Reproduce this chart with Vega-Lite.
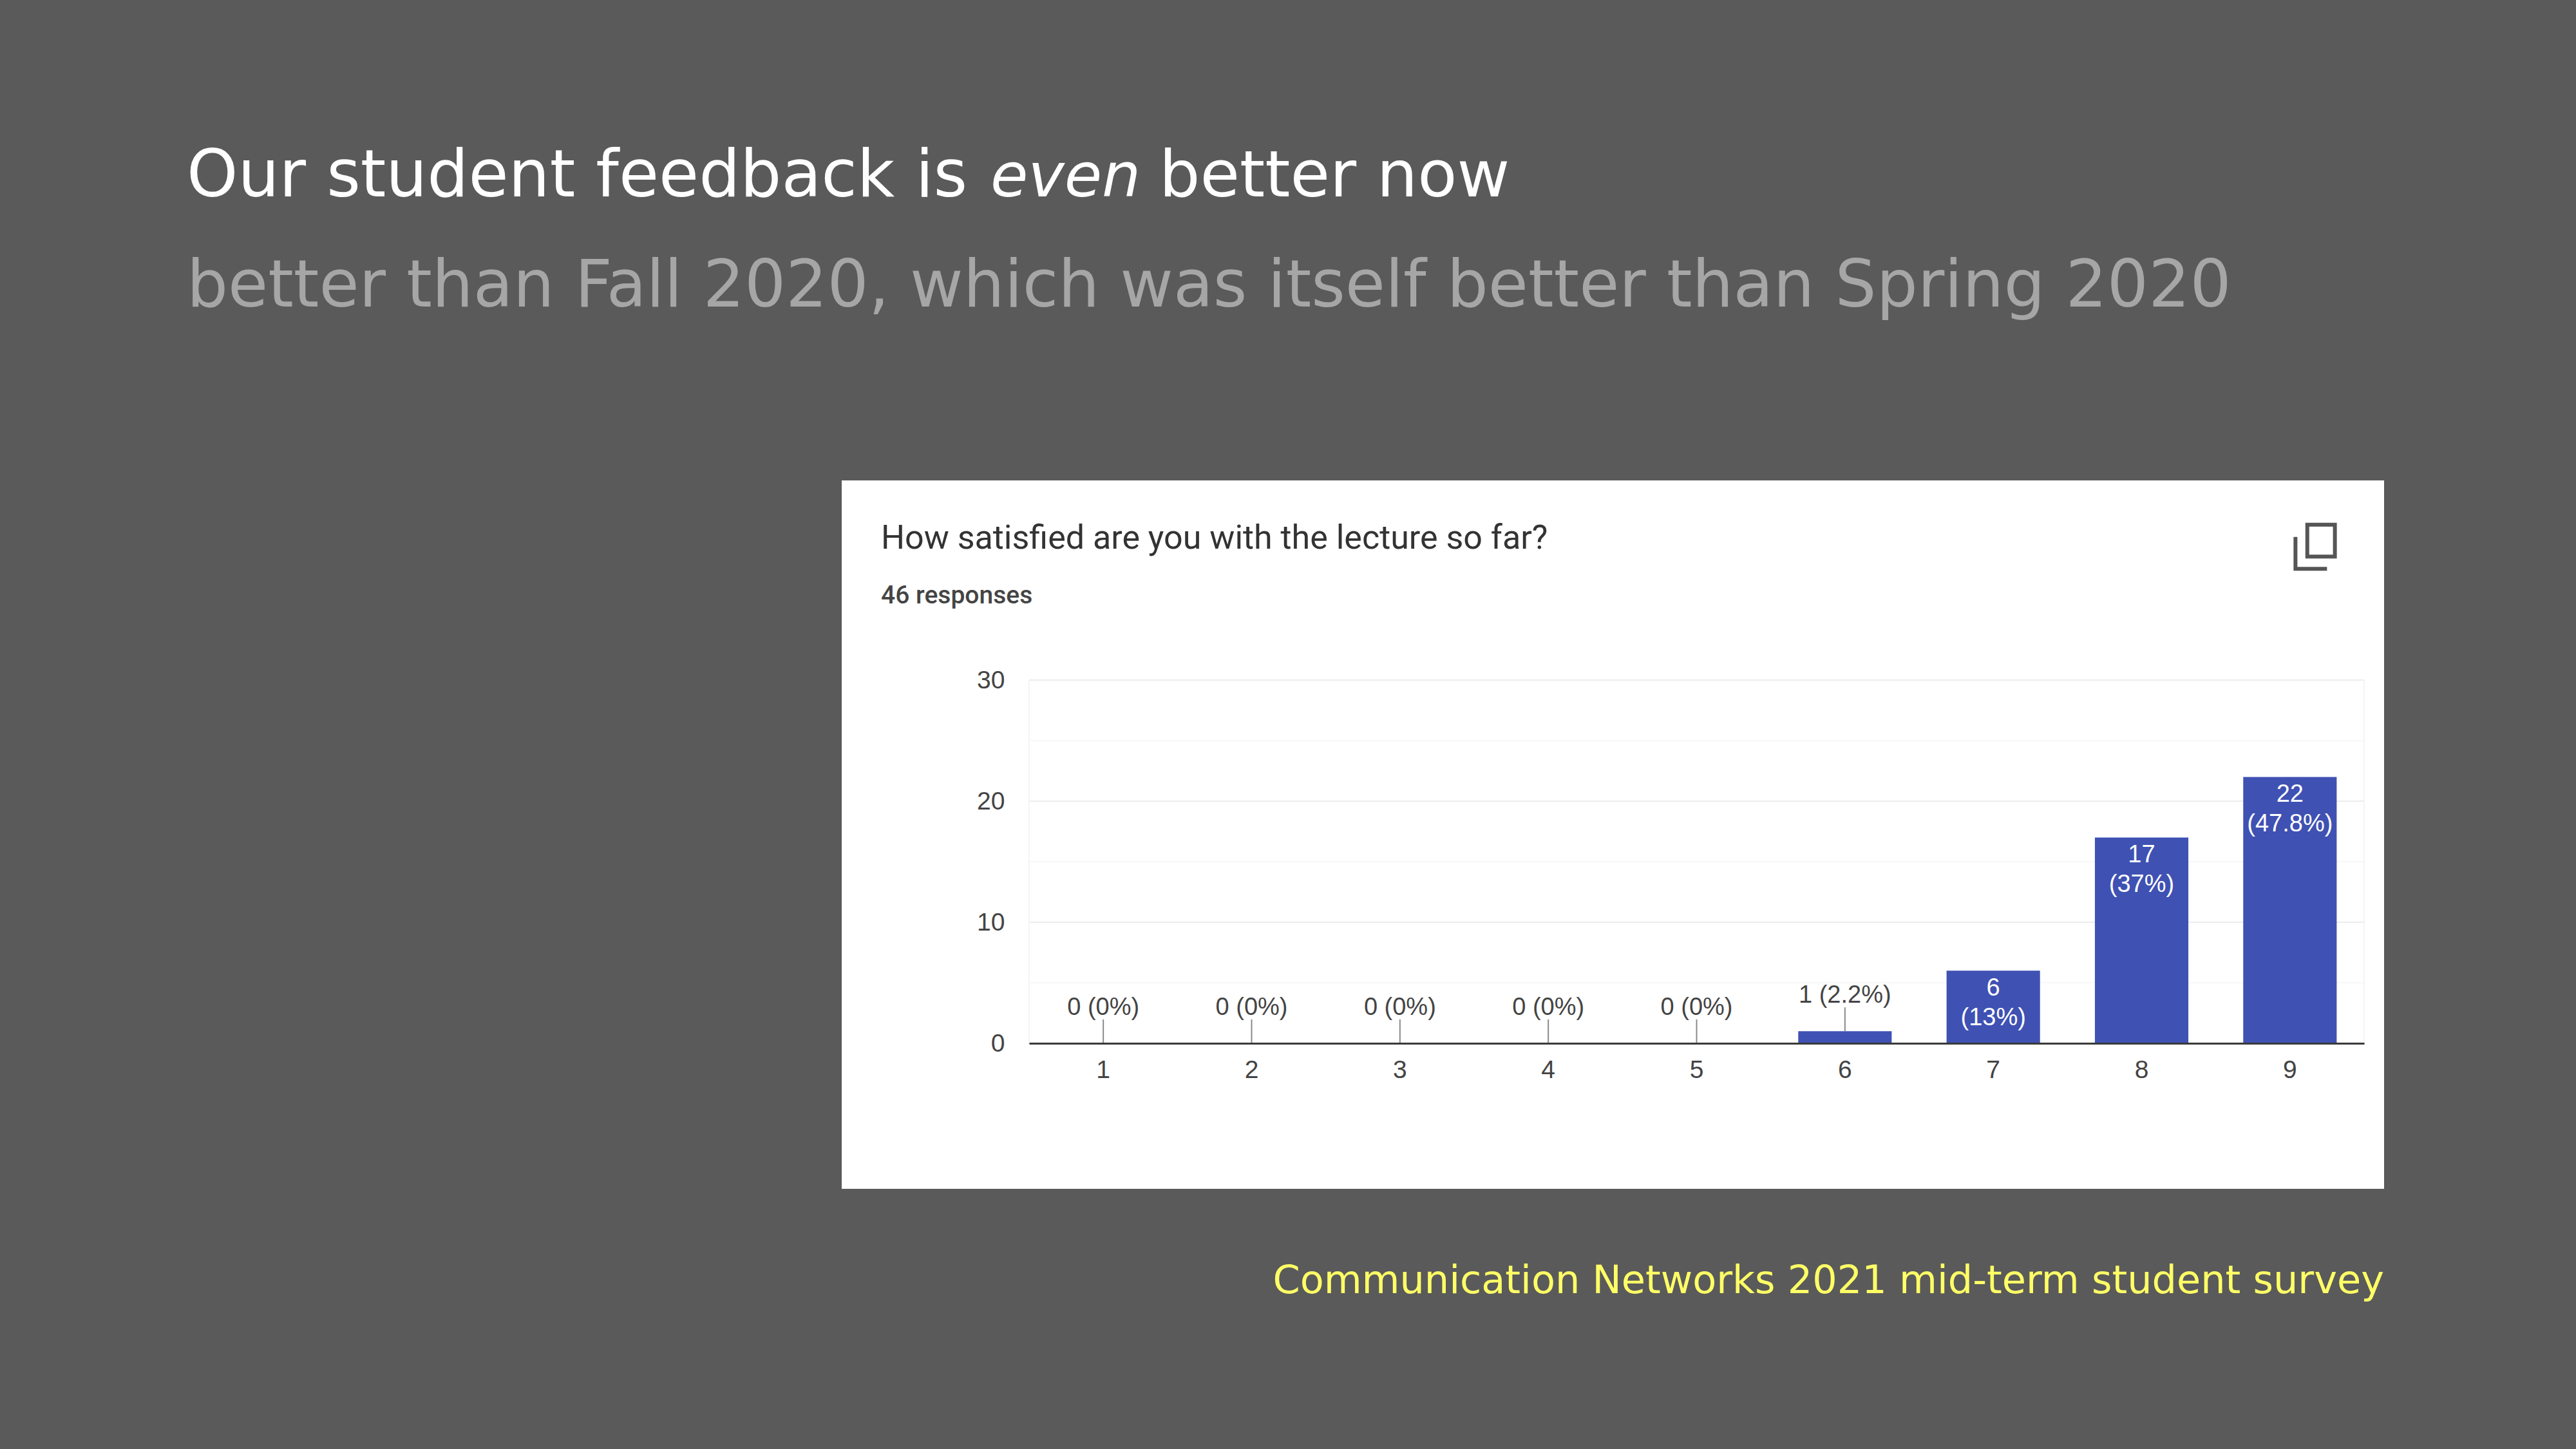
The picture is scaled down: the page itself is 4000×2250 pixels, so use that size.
{
"$schema":"https://vega.github.io/schema/vega-lite/v6.json",
"width":2395,"height":1100,
"autosize":{"type":"none"},
"padding":{"left":1307,"top":746,"right":298,"bottom":404},
"background":"#5a5a5a",
"config":{"view":{"fill":"#ffffff","stroke":null}},
"datasets":{
"ratings":[
{"rating":"1","count":0,"label":"0 (0%)"},
{"rating":"2","count":0,"label":"0 (0%)"},
{"rating":"3","count":0,"label":"0 (0%)"},
{"rating":"4","count":0,"label":"0 (0%)"},
{"rating":"5","count":0,"label":"0 (0%)"},
{"rating":"6","count":1,"label":"1 (2.2%)"},
{"rating":"7","count":6,"label":"6\n(13%)"},
{"rating":"8","count":17,"label":"17\n(37%)"},
{"rating":"9","count":22,"label":"22\n(47.8%)"}
],
"grid":[{"g":5,"k":"minor"},{"g":10,"k":"major"},{"g":15,"k":"minor"},{"g":20,"k":"major"},{"g":25,"k":"minor"},{"g":30,"k":"major"}],
"edges":[{"edge":0},{"edge":9}]
},
"resolve":{"scale":{"x":"independent"},"axis":{"y":"independent"}},
"layer":[
{"data":{"name":"grid"},
"mark":{"type":"rule","strokeWidth":2},
"encoding":{
"x":{"datum":0,"type":"quantitative","scale":{"domain":[0,9],"range":[291,2364]},"axis":null},
"x2":{"datum":9},
"y":{"field":"g","type":"quantitative","scale":{"domain":[0,30],"range":[874,310]},"axis":null},
"color":{"field":"k","type":"nominal","scale":{"domain":["major","minor"],"range":["#ececec","#f8f8f8"]},"legend":null}
}},
{"data":{"name":"edges"},
"mark":{"type":"rule","strokeWidth":2,"color":"#f4f4f4"},
"encoding":{
"x":{"field":"edge","type":"quantitative","scale":{"domain":[0,9],"range":[291,2364]},"axis":null},
"y":{"datum":0,"type":"quantitative","scale":{"domain":[0,30],"range":[874,310]},"axis":null},
"y2":{"datum":30}
}},
{"data":{"name":"ratings"},
"mark":{"type":"bar","color":"#3f51b3"},
"encoding":{
"x":{"field":"rating","type":"nominal","sort":null,"scale":{"type":"band","domain":["1","2","3","4","5","6","7","8","9"],"range":[291,2364],"paddingInner":0.37,"paddingOuter":0.185},
"axis":{"title":null,"offset":-226,"domainColor":"#3a3a3a","domainWidth":3,"ticks":false,"labelAngle":0,"labelFont":"Liberation Sans","labelFontSize":39,"labelColor":"#444444","labelPadding":22,"labelBaseline":"top","grid":false,"zindex":1}},
"y":{"field":"count","type":"quantitative","scale":{"domain":[0,30],"range":[874,310]},
"axis":{"title":null,"values":[0,10,20,30],"offset":-253,"domain":false,"ticks":false,"grid":false,"labelFont":"Liberation Sans","labelFontSize":39,"labelColor":"#444444","labelPadding":0}}
}},
{"data":{"name":"ratings"},
"transform":[{"filter":"datum.count <= 1"}],
"mark":{"type":"rule","color":"#8a8a8a","strokeWidth":2,"y2Offset":-37},
"encoding":{
"x":{"field":"rating","type":"nominal","sort":null,"scale":{"type":"band","domain":["1","2","3","4","5","6","7","8","9"],"range":[291,2364],"paddingInner":0.37,"paddingOuter":0.185},"axis":null},
"y":{"field":"count","type":"quantitative","scale":{"domain":[0,30],"range":[874,310]},"axis":null},
"y2":{"field":"count"}
}},
{"data":{"name":"ratings"},
"transform":[{"filter":"datum.count <= 1"}],
"mark":{"type":"text","font":"Liberation Sans","fontSize":38,"color":"#444444","baseline":"alphabetic","dy":-44},
"encoding":{
"x":{"field":"rating","type":"nominal","sort":null,"scale":{"type":"band","domain":["1","2","3","4","5","6","7","8","9"],"range":[291,2364],"paddingInner":0.37,"paddingOuter":0.185},"axis":null},
"y":{"field":"count","type":"quantitative","scale":{"domain":[0,30],"range":[874,310]},"axis":null},
"text":{"field":"label"}
}},
{"data":{"name":"ratings"},
"transform":[{"filter":"datum.count > 1"}],
"mark":{"type":"text","font":"Liberation Sans","fontSize":38,"color":"#ffffff","baseline":"top","dy":9,"lineBreak":"\n","lineHeight":46},
"encoding":{
"x":{"field":"rating","type":"nominal","sort":null,"scale":{"type":"band","domain":["1","2","3","4","5","6","7","8","9"],"range":[291,2364],"paddingInner":0.37,"paddingOuter":0.185},"axis":null},
"y":{"field":"count","type":"quantitative","scale":{"domain":[0,30],"range":[874,310]},"axis":null},
"text":{"field":"label"}
}},
{"data":{"values":[{"t":"How satisfied are you with the lecture so far?"}]},
"mark":{"type":"text","font":"Roboto","fontSize":52,"color":"#333333","align":"left","baseline":"alphabetic"},
"encoding":{"x":{"value":61},"y":{"value":106},"text":{"field":"t"}}},
{"data":{"values":[{"t":"46 responses"}]},
"mark":{"type":"text","font":"Roboto","fontSize":39,"fontWeight":500,"color":"#444444","align":"left","baseline":"alphabetic"},
"encoding":{"x":{"value":61},"y":{"value":191},"text":{"field":"t"}}},
{"data":{"values":[{"t":"copy"}]},
"mark":{"type":"point","shape":"M-0.2,-0.56H0.5V0.25H-0.2Z M-0.5,-0.25V0.56H0.3","filled":false,"size":15000,"color":"#555555","strokeWidth":6,"opacity":1},
"encoding":{"x":{"value":2288},"y":{"value":103}}},
{"data":{"values":[{"t":"Our student feedback is"}]},
"mark":{"type":"text","font":"DejaVu Sans","fontSize":101,"color":"#ffffff","align":"left","baseline":"alphabetic"},
"encoding":{"x":{"value":-1017},"y":{"value":-441},"text":{"field":"t"}}},
{"data":{"values":[{"t":"even"}]},
"mark":{"type":"text","font":"DejaVu Sans","fontStyle":"italic","fontSize":95,"color":"#ffffff","align":"left","baseline":"alphabetic"},
"encoding":{"x":{"value":231},"y":{"value":-441},"text":{"field":"t"}}},
{"data":{"values":[{"t":"better now"}]},
"mark":{"type":"text","font":"DejaVu Sans","fontSize":100,"color":"#ffffff","align":"left","baseline":"alphabetic"},
"encoding":{"x":{"value":493},"y":{"value":-441},"text":{"field":"t"}}},
{"data":{"values":[{"t":"better than Fall 2020, which was itself better than Spring 2020"}]},
"mark":{"type":"text","font":"DejaVu Sans","fontSize":101,"color":"#a6a6a6","align":"left","baseline":"alphabetic"},
"encoding":{"x":{"value":-1017},"y":{"value":-270},"text":{"field":"t"}}},
{"data":{"values":[{"t":"Communication Networks 2021 mid-term student survey"}]},
"mark":{"type":"text","font":"DejaVu Sans","fontSize":60.5,"color":"#ffff66","align":"right","baseline":"alphabetic"},
"encoding":{"x":{"value":2395},"y":{"value":1262},"text":{"field":"t"}}}
]
}
